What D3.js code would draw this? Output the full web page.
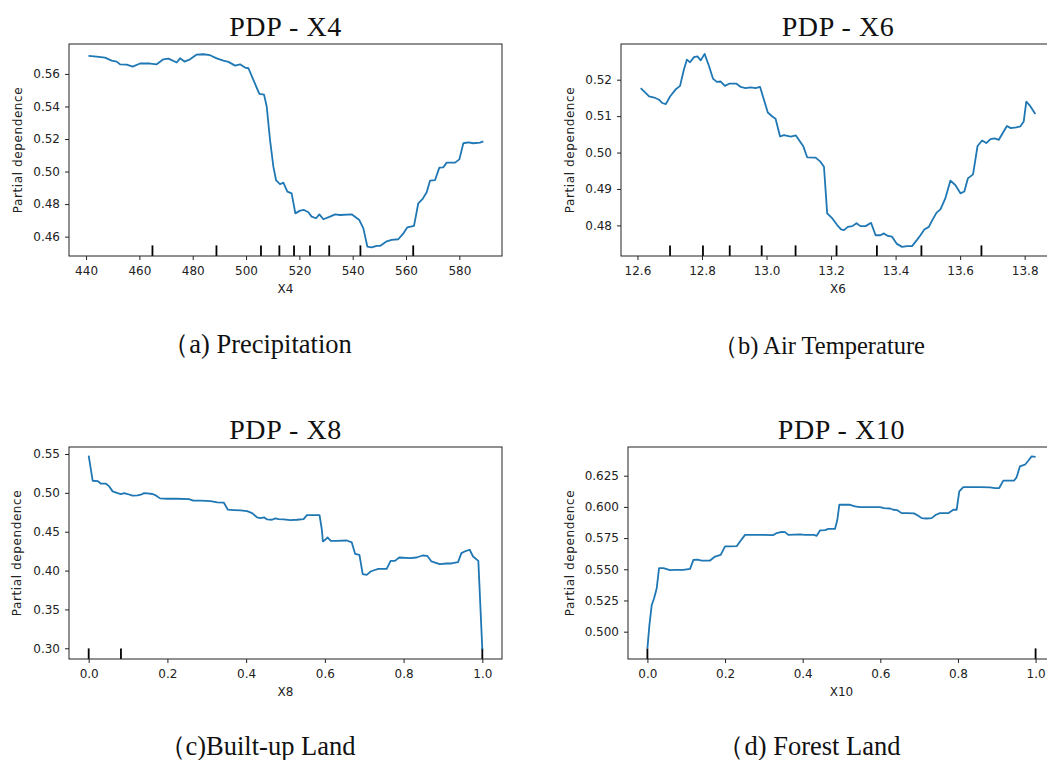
<!DOCTYPE html>
<html>
<head>
<meta charset="utf-8">
<script src="https://cdn.jsdelivr.net/npm/d3@7"></script>
<style>
  body { margin: 0; background: #fff; }
  svg { display: block; }
  .tick text { font-family: 'DejaVu Sans', sans-serif; font-size: 12px; fill: #222; }
  .tick line { stroke: #222; }
</style>
</head>
<body>
<svg id="chart" width="1047" height="760"></svg>
<script>
// ---- data ----
const x4X = [440.9, 444, 447.1, 449.6, 451.5, 452.75, 455.25, 457.5, 460.25, 464, 466.5, 469, 470.9, 474, 475.25, 476.9, 479, 481.5, 484, 486.5, 489, 491.5, 493.4, 495.9, 497.75, 499.6, 500.9, 502.75, 505, 506.75, 507.75, 509, 510.25, 511.25, 512.75, 514, 515.5, 517.1, 518.5, 520.25, 521.75, 523.4, 524.6, 526.25, 527.5, 529, 531.5, 533.4, 535.25, 539.6, 542.5, 544, 545.5, 547.1, 549, 550.25, 552.5, 554.6, 557.1, 559, 560.5, 563, 564.6, 566.25, 567.75, 569, 570.9, 572.5, 574, 575.25, 578.4, 580, 581.5, 583.4, 585.25, 587.75, 589];
const x4Y = [0.5711, 0.5707, 0.5700, 0.5682, 0.5676, 0.5659, 0.5657, 0.5645, 0.5664, 0.5664, 0.5659, 0.5690, 0.5694, 0.5670, 0.5696, 0.5676, 0.5690, 0.5719, 0.5721, 0.5715, 0.5696, 0.5682, 0.5674, 0.5651, 0.5659, 0.5639, 0.5635, 0.5563, 0.5477, 0.5473, 0.5400, 0.5194, 0.5030, 0.4948, 0.4922, 0.4932, 0.4877, 0.4866, 0.4743, 0.4760, 0.4764, 0.4750, 0.4723, 0.4713, 0.4737, 0.4707, 0.4723, 0.4737, 0.4733, 0.4737, 0.4702, 0.4651, 0.4539, 0.4534, 0.4543, 0.4543, 0.4569, 0.4580, 0.4584, 0.4620, 0.4657, 0.4666, 0.4805, 0.4832, 0.4873, 0.4944, 0.4948, 0.5024, 0.5026, 0.5055, 0.5055, 0.5075, 0.5174, 0.5180, 0.5174, 0.5178, 0.5186];
const x4Deciles = [464.9, 488.9, 505.6, 512.5, 518, 524, 531.2, 542.9, 562.7];
const x4XTicks = [440, 460, 480, 500, 520, 540, 560, 580];
const x4YTicks = [0.46, 0.48, 0.50, 0.52, 0.54, 0.56];

const x6X = [12.610, 12.626, 12.636, 12.652, 12.667, 12.677, 12.688, 12.701, 12.719, 12.732, 12.744, 12.753, 12.763, 12.775, 12.786, 12.796, 12.808, 12.822, 12.834, 12.846, 12.858, 12.871, 12.884, 12.907, 12.920, 12.935, 12.951, 12.966, 12.980, 12.992, 13.004, 13.018, 13.028, 13.042, 13.054, 13.075, 13.091, 13.100, 13.114, 13.126, 13.152, 13.167, 13.178, 13.188, 13.204, 13.219, 13.231, 13.240, 13.252, 13.266, 13.279, 13.291, 13.307, 13.324, 13.338, 13.353, 13.364, 13.376, 13.389, 13.403, 13.420, 13.436, 13.451, 13.467, 13.477, 13.489, 13.503, 13.513, 13.527, 13.539, 13.554, 13.570, 13.585, 13.601, 13.613, 13.624, 13.640, 13.654, 13.668, 13.681, 13.694, 13.707, 13.720, 13.733, 13.745, 13.757, 13.774, 13.787, 13.797, 13.805, 13.817, 13.833];
const x6Y = [0.5177, 0.5163, 0.5154, 0.5151, 0.5145, 0.5136, 0.5133, 0.5154, 0.5174, 0.5183, 0.5228, 0.5255, 0.5248, 0.5262, 0.5264, 0.5253, 0.5271, 0.5237, 0.5203, 0.5194, 0.5195, 0.5183, 0.5189, 0.5189, 0.5180, 0.5177, 0.5179, 0.5177, 0.5180, 0.5145, 0.5110, 0.5099, 0.5093, 0.5044, 0.5048, 0.5044, 0.5047, 0.5035, 0.5017, 0.4987, 0.4986, 0.4975, 0.4961, 0.4833, 0.4819, 0.4801, 0.4789, 0.4787, 0.4796, 0.4798, 0.4806, 0.4798, 0.4798, 0.4807, 0.4773, 0.4773, 0.4778, 0.4771, 0.4769, 0.4750, 0.4741, 0.4743, 0.4743, 0.4761, 0.4773, 0.4789, 0.4796, 0.4813, 0.4835, 0.4844, 0.4874, 0.4923, 0.4911, 0.4888, 0.4893, 0.4929, 0.4940, 0.5018, 0.5033, 0.5026, 0.5037, 0.5039, 0.5035, 0.5055, 0.5073, 0.5067, 0.5069, 0.5072, 0.5085, 0.5140, 0.5128, 0.5106];
const x6Deciles = [12.701, 12.803, 12.886, 12.985, 13.090, 13.217, 13.342, 13.480, 13.666];
const x6XTicks = [12.6, 12.8, 13.0, 13.2, 13.4, 13.6, 13.8];
const x6YTicks = [0.48, 0.49, 0.50, 0.51, 0.52];

const x8X = [0, 0.0101, 0.0228, 0.0312, 0.0439, 0.0523, 0.0608, 0.0734, 0.0819, 0.0903, 0.0987, 0.1114, 0.1241, 0.1325, 0.1409, 0.1494, 0.1620, 0.1705, 0.1814, 0.2000, 0.2253, 0.2549, 0.2658, 0.2844, 0.3097, 0.3266, 0.3435, 0.3536, 0.3688, 0.3857, 0.4025, 0.4152, 0.4278, 0.4363, 0.4464, 0.4532, 0.4658, 0.4743, 0.4827, 0.4954, 0.5122, 0.5291, 0.5460, 0.5544, 0.5713, 0.5865, 0.5924, 0.5949, 0.6008, 0.6068, 0.6152, 0.6304, 0.6557, 0.6684, 0.6768, 0.6878, 0.6962, 0.7063, 0.7165, 0.7232, 0.7359, 0.7570, 0.7671, 0.7781, 0.7890, 0.8160, 0.8329, 0.8481, 0.8599, 0.8709, 0.8819, 0.8920, 0.9089, 0.9215, 0.9384, 0.9468, 0.9553, 0.9679, 0.9764, 0.9899, 1.0];
const x8Y = [0.5479, 0.5156, 0.5152, 0.5118, 0.5118, 0.5083, 0.5019, 0.4997, 0.4985, 0.4997, 0.4985, 0.4963, 0.4967, 0.4976, 0.4997, 0.4993, 0.4985, 0.4967, 0.4929, 0.4924, 0.4924, 0.4920, 0.4899, 0.4899, 0.4894, 0.4877, 0.4873, 0.4783, 0.4778, 0.4774, 0.4765, 0.4740, 0.4684, 0.4675, 0.4684, 0.4658, 0.4654, 0.4671, 0.4662, 0.4658, 0.4649, 0.4654, 0.4662, 0.4714, 0.4714, 0.4714, 0.4525, 0.4375, 0.4396, 0.4426, 0.4383, 0.4383, 0.4387, 0.4362, 0.4216, 0.4203, 0.3954, 0.3945, 0.3988, 0.4001, 0.4022, 0.4022, 0.4125, 0.4125, 0.4168, 0.4160, 0.4168, 0.4194, 0.4190, 0.4117, 0.4100, 0.4082, 0.4091, 0.4091, 0.4108, 0.4224, 0.4246, 0.4268, 0.4181, 0.4125, 0.2986];
const x8Deciles = [0, 0.082, 1.0];
const x8XTicks = [0, 0.2, 0.4, 0.6, 0.8, 1.0];
const x8YTicks = [0.30, 0.35, 0.40, 0.45, 0.50, 0.55];

const x10X = [0, 0.0052, 0.0112, 0.0172, 0.0240, 0.0300, 0.0412, 0.0584, 0.0712, 0.0927, 0.1099, 0.1185, 0.1288, 0.1399, 0.1614, 0.1742, 0.1888, 0.2000, 0.2129, 0.2300, 0.2386, 0.2515, 0.2644, 0.2901, 0.3245, 0.3330, 0.3459, 0.3545, 0.3631, 0.3931, 0.4060, 0.4292, 0.4361, 0.4446, 0.4575, 0.4661, 0.4833, 0.4893, 0.4944, 0.5047, 0.5219, 0.5348, 0.5476, 0.5734, 0.5991, 0.6094, 0.6249, 0.6335, 0.6438, 0.6549, 0.6678, 0.6867, 0.6979, 0.7064, 0.7193, 0.7322, 0.7433, 0.7536, 0.7751, 0.7880, 0.7966, 0.8034, 0.8137, 0.8309, 0.8567, 0.8824, 0.8953, 0.9064, 0.9167, 0.9339, 0.9442, 0.9511, 0.9597, 0.9725, 0.9811, 0.9897, 1.0];
const x10Y = [0.4866, 0.5054, 0.5214, 0.5268, 0.5348, 0.5509, 0.5509, 0.5493, 0.5495, 0.5495, 0.5503, 0.5575, 0.5578, 0.5570, 0.5570, 0.5602, 0.5616, 0.5683, 0.5683, 0.5685, 0.5723, 0.5776, 0.5776, 0.5776, 0.5774, 0.5790, 0.5800, 0.5798, 0.5776, 0.5779, 0.5776, 0.5776, 0.5768, 0.5811, 0.5814, 0.5824, 0.5824, 0.5897, 0.6017, 0.6017, 0.6017, 0.6004, 0.5998, 0.5998, 0.5998, 0.5990, 0.5987, 0.5977, 0.5974, 0.5950, 0.5950, 0.5948, 0.5929, 0.5910, 0.5907, 0.5910, 0.5937, 0.5950, 0.5950, 0.5977, 0.5977, 0.6124, 0.6159, 0.6159, 0.6159, 0.6156, 0.6151, 0.6151, 0.6210, 0.6210, 0.6210, 0.6237, 0.6325, 0.6338, 0.6370, 0.6405, 0.6400];
const x10Deciles = [0, 1.0];
const x10XTicks = [0, 0.2, 0.4, 0.6, 0.8, 1.0];
const x10YTicks = [0.500, 0.525, 0.550, 0.575, 0.600, 0.625];

const titles = ['PDP - X4', 'PDP - X6', 'PDP - X8', 'PDP - X10'];
const xLabels = ['X4', 'X6', 'X8', 'X10'];
const captions = ['\uFF08a) Precipitation', '\uFF08b) Air Temperature', '\uFF08c)Built-up Land', '\uFF08d) Forest Land'];

// ---- layout (pixel boxes of each subplot) ----
const panels = [
  { xs: x4X, ys: x4Y, dec: x4Deciles, xt: x4XTicks, yt: x4YTicks, xf: 'd', yf: '.2f',
    box: [69, 502, 44, 256], xd: [433.6, 596.0], yd: [0.4481, 0.5784], ylx: 18, cap: [257, 353, 26.5] },
  { xs: x6X, ys: x6Y, dec: x6Deciles, xt: x6XTicks, yt: x6YTicks, xf: '.1f', yf: '.2f',
    box: [621, 1055, 44, 256], xd: [12.549, 13.894], yd: [0.4716, 0.5298], ylx: 570, cap: [819, 354, 24.5] },
  { xs: x8X, ys: x8Y, dec: x8Deciles, xt: x8XTicks, yt: x8YTicks, xf: '.1f', yf: '.2f',
    box: [69, 502, 447, 659], xd: [-0.05, 1.05], yd: [0.2862, 0.559], ylx: 17, cap: [257, 755, 26.5] },
  { xs: x10X, ys: x10Y, dec: x10Deciles, xt: x10XTicks, yt: x10YTicks, xf: '.1f', yf: '.3f',
    box: [628, 1055, 447, 659], xd: [-0.05, 1.05], yd: [0.4781, 0.6480], ylx: 570, cap: [809, 755, 26.5] }
];

var svg = d3.select('#chart');

panels.forEach(function (p, i) {
  var left = p.box[0], right = p.box[1], top = p.box[2], bottom = p.box[3];
  var x = d3.scaleLinear().domain(p.xd).range([left, right]);
  var y = d3.scaleLinear().domain(p.yd).range([bottom, top]);
  var g = svg.append('g');

  // decile rug (5% of axes height, like sklearn)
  var rugTop = bottom - (bottom - top) * 0.05;
  g.append('g')
    .selectAll('line')
    .data(p.dec)
    .enter()
    .append('line')
    .attr('x1', function (d) { return x(d); })
    .attr('x2', function (d) { return x(d); })
    .attr('y1', bottom)
    .attr('y2', rugTop)
    .attr('stroke', '#000')
    .attr('stroke-width', 1.8);

  var pts = p.xs.map(function (d, k) { return [d, p.ys[k]]; });
  g.append('path')
    .datum(pts)
    .attr('fill', 'none')
    .attr('stroke', '#1f77b4')
    .attr('stroke-width', 1.8)
    .attr('stroke-linejoin', 'round')
    .attr('d', d3.line()
      .x(function (d) { return x(d[0]); })
      .y(function (d) { return y(d[1]); }));

  g.append('g')
    .attr('transform', 'translate(0,' + bottom + ')')
    .call(d3.axisBottom(x).tickValues(p.xt).tickSize(4).tickPadding(6)
      .tickFormat(d3.format(p.xf)))
    .call(function (a) { a.select('.domain').remove(); });

  g.append('g')
    .attr('transform', 'translate(' + left + ',0)')
    .call(d3.axisLeft(y).tickValues(p.yt).tickSize(4).tickPadding(5)
      .tickFormat(d3.format(p.yf)))
    .call(function (a) { a.select('.domain').remove(); });

  g.append('rect')
    .attr('x', left)
    .attr('y', top)
    .attr('width', right - left)
    .attr('height', bottom - top)
    .attr('fill', 'none')
    .attr('stroke', '#222')
    .attr('stroke-width', 1);

  var cx = (left + right) / 2;
  g.append('text')
    .attr('x', cx)
    .attr('y', top - 8)
    .attr('text-anchor', 'middle')
    .attr('font-family', 'Liberation Serif, serif')
    .attr('font-size', 28)
    .attr('letter-spacing', 0.6)
    .attr('fill', '#111')
    .text(titles[i]);

  g.append('text')
    .attr('x', cx)
    .attr('y', bottom + 37)
    .attr('text-anchor', 'middle')
    .attr('font-family', 'DejaVu Sans, sans-serif')
    .attr('font-size', 12)
    .attr('fill', '#222')
    .text(xLabels[i]);

  g.append('text')
    .attr('transform', 'translate(' + p.ylx + ',' + (top + bottom) / 2 + ') rotate(-90)')
    .attr('dy', '0.35em')
    .attr('text-anchor', 'middle')
    .attr('font-family', 'DejaVu Sans, sans-serif')
    .attr('font-size', 12)
    .attr('letter-spacing', 0.6)
    .attr('fill', '#222')
    .text('Partial dependence');

  svg.append('text')
    .attr('x', p.cap[0])
    .attr('y', p.cap[1])
    .attr('text-anchor', 'middle')
    .attr('font-family', 'Liberation Serif, serif')
    .attr('font-size', p.cap[2])
    .attr('fill', '#111')
    .text(captions[i]);
});
</script>
</body>
</html>
